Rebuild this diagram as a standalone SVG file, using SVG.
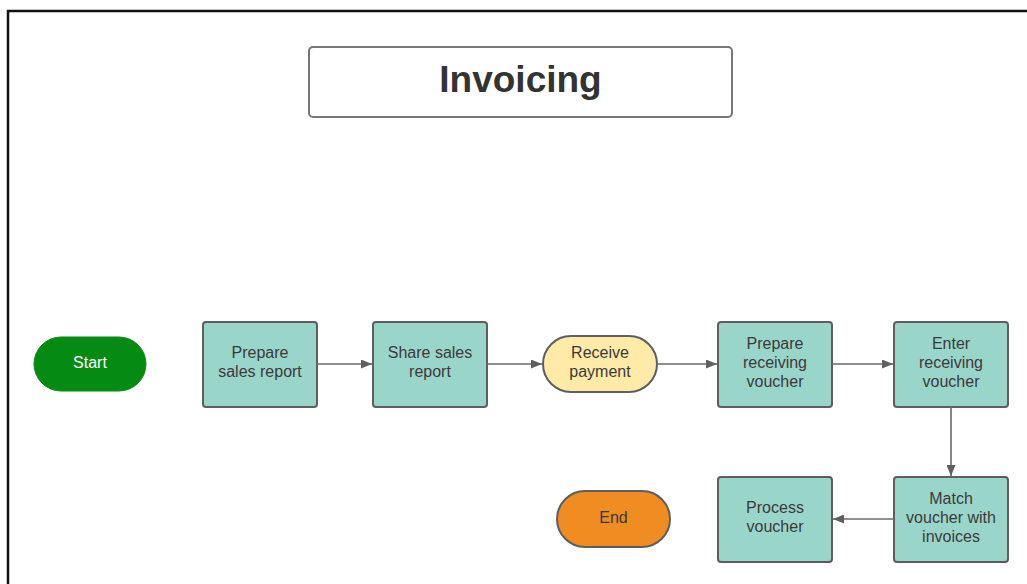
<svg xmlns="http://www.w3.org/2000/svg" width="1027" height="584" viewBox="0 0 1027 584">
  <defs>
    <marker id="arrow" viewBox="0 0 11 9" refX="11" refY="4.5" markerWidth="11" markerHeight="9" markerUnits="userSpaceOnUse" orient="auto">
      <path d="M0,0 L11,4.5 L0,9 Z" fill="#5f5f5f"/>
    </marker>
  </defs>
  <style>
    .frame { fill: none; stroke: #111; stroke-width: 2.5; }
    .title-box { fill: #fff; stroke: #777; stroke-width: 2; }
    .title { font-family: "Liberation Sans", Arial, sans-serif; font-size: 37px; font-weight: bold; fill: #333; text-anchor: middle; }
    .proc { fill: #9ad5ca; stroke: #5e5e5e; stroke-width: 2; }
    .label { font-family: "Liberation Sans", Arial, sans-serif; font-size: 16px; fill: #3a3a3a; text-anchor: middle; }
    .start { fill: #058a13; stroke: #0a8a16; stroke-width: 1; }
    .start-label { font-family: "Liberation Sans", Arial, sans-serif; font-size: 16px; fill: #fff; text-anchor: middle; }
    .pay { fill: #ffeaa7; stroke: #5e5e5e; stroke-width: 2; }
    .end { fill: #ef8c22; stroke: #5e5e5e; stroke-width: 2; }
    .edge { fill: none; stroke: #6a6a6a; stroke-width: 1.6; marker-end: url(#arrow); }
  </style>

  <rect width="1027" height="584" fill="#fff"/>
  <!-- outer frame, open to the right and bottom -->
  <path class="frame" d="M8,600 L8,11 L1040,11"/>

  <g id="title">
    <rect class="title-box" x="309" y="47" width="423" height="70" rx="4"/>
    <text class="title" x="520.5" y="92">Invoicing</text>
  </g>

  <g id="start">
    <rect class="start" x="34" y="337" width="112" height="54" rx="27"/>
    <text class="start-label" x="90" y="368">Start</text>
  </g>

  <g id="prepare-sales-report">
    <rect class="proc" x="203" y="322" width="114" height="85" rx="3"/>
    <text class="label" x="260" y="358">Prepare</text>
    <text class="label" x="260" y="377">sales report</text>
  </g>

  <g id="share-sales-report">
    <rect class="proc" x="373" y="322" width="114" height="85" rx="3"/>
    <text class="label" x="430" y="358">Share sales</text>
    <text class="label" x="430" y="377">report</text>
  </g>

  <g id="receive-payment">
    <rect class="pay" x="543" y="336" width="114" height="56" rx="28"/>
    <text class="label" x="600" y="358">Receive</text>
    <text class="label" x="600" y="377">payment</text>
  </g>

  <g id="prepare-receiving-voucher">
    <rect class="proc" x="718" y="322" width="114" height="85" rx="3"/>
    <text class="label" x="775" y="349">Prepare</text>
    <text class="label" x="775" y="368">receiving</text>
    <text class="label" x="775" y="387">voucher</text>
  </g>

  <g id="enter-receiving-voucher">
    <rect class="proc" x="894" y="322" width="114" height="85" rx="3"/>
    <text class="label" x="951" y="349">Enter</text>
    <text class="label" x="951" y="368">receiving</text>
    <text class="label" x="951" y="387">voucher</text>
  </g>

  <g id="match-voucher">
    <rect class="proc" x="894" y="477" width="114" height="85" rx="3"/>
    <text class="label" x="951" y="504">Match</text>
    <text class="label" x="951" y="523">voucher with</text>
    <text class="label" x="951" y="542">invoices</text>
  </g>

  <g id="process-voucher">
    <rect class="proc" x="718" y="477" width="114" height="85" rx="3"/>
    <text class="label" x="775" y="513">Process</text>
    <text class="label" x="775" y="532">voucher</text>
  </g>

  <g id="end">
    <rect class="end" x="557" y="491" width="113" height="56" rx="28"/>
    <text class="label" x="613.5" y="523">End</text>
  </g>

  <g id="connectors">
    <path class="edge" d="M317,364 L372,364"/>
    <path class="edge" d="M487,364 L542,364"/>
    <path class="edge" d="M657,364 L717,364"/>
    <path class="edge" d="M832,364 L893,364"/>
    <path class="edge" d="M951,407 L951,476"/>
    <path class="edge" d="M894,519 L833,519"/>
  </g>
</svg>
